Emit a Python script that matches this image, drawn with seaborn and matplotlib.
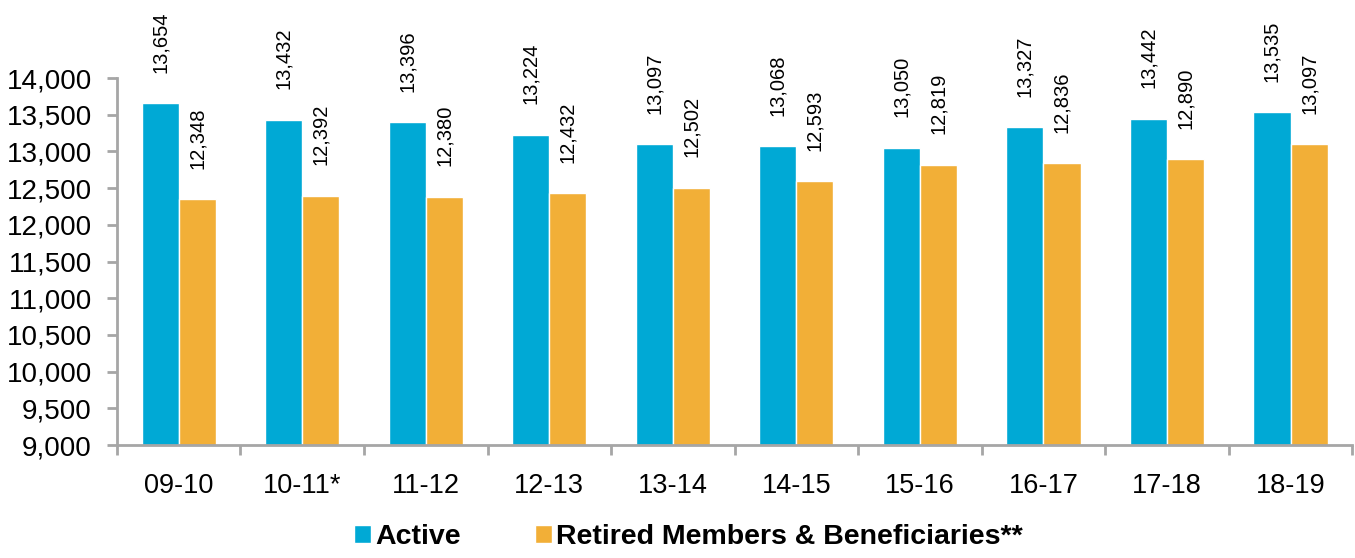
import pandas as pd
import seaborn as sns
import matplotlib.pyplot as plt
from matplotlib.ticker import FuncFormatter, MultipleLocator, FixedLocator

years = ['09-10', '10-11*', '11-12', '12-13', '13-14', '14-15', '15-16', '16-17', '17-18', '18-19']
active = [13654, 13432, 13396, 13224, 13097, 13068, 13050, 13327, 13442, 13535]
retired = [12348, 12392, 12380, 12432, 12502, 12593, 12819, 12836, 12890, 13097]
series = ['Active', 'Retired Members & Beneficiaries**']
colors = ['#00A9D5', '#F2AF37']

df = pd.DataFrame({
    'year': years * 2,
    'count': active + retired,
    'group': [series[0]] * len(years) + [series[1]] * len(years),
})

sns.set_style('white')
plt.rcParams['font.family'] = ['Liberation Sans', 'DejaVu Sans']
plt.rcParams['text.color'] = 'black'
plt.rcParams['xtick.labelcolor'] = 'black'
plt.rcParams['ytick.labelcolor'] = 'black'

fig = plt.figure(figsize=(13.55, 5.58), dpi=100)
ax = fig.add_axes([0.0863, 0.2025, 0.9117, 0.6577])

sns.barplot(data=df, x='year', y='count', hue='group', palette=colors,
            width=0.6, saturation=1, ax=ax)

ax.set_ylim(9000, 14000)
ax.set_xlim(-0.5, len(years) - 0.5)
ax.yaxis.set_major_locator(MultipleLocator(500))
ax.yaxis.set_major_formatter(FuncFormatter(lambda v, p: f'{v:,.0f}'))
ax.set_xlabel('')
ax.set_ylabel('')

# rotated value labels above each bar
for cont in ax.containers:
    ax.bar_label(cont, fmt='{:,.0f}', padding=22, rotation=90,
                 fontsize=14.5, color='black', clip_on=False)

for s in ['top', 'right']:
    ax.spines[s].set_visible(False)
for s in ['left', 'bottom']:
    ax.spines[s].set_color('#A6A6A6')
    ax.spines[s].set_linewidth(2)

ax.tick_params(axis='y', length=7, width=2, color='#A6A6A6', labelsize=20, pad=11,
               left=True, labelcolor='black')
ax.tick_params(axis='x', which='major', length=0, labelsize=19.5, pad=20, labelcolor='black')
ax.xaxis.set_minor_locator(FixedLocator([i - 0.5 for i in range(len(years) + 1)]))
ax.tick_params(axis='x', which='minor', length=7, width=2, color='#A6A6A6', bottom=True)

handles, labels = ax.get_legend_handles_labels()
ax.get_legend().remove()
leg = fig.legend(handles, labels, loc='lower center', bbox_to_anchor=(0.508, -0.032), ncol=2,
                 frameon=False, handlelength=0.6, handleheight=0.6, handletextpad=0.15,
                 columnspacing=2.6, prop={'weight': 'bold', 'size': 20.5})
for t in leg.get_texts():
    t.set_color('black')

fig.savefig('out.png', dpi=100)
